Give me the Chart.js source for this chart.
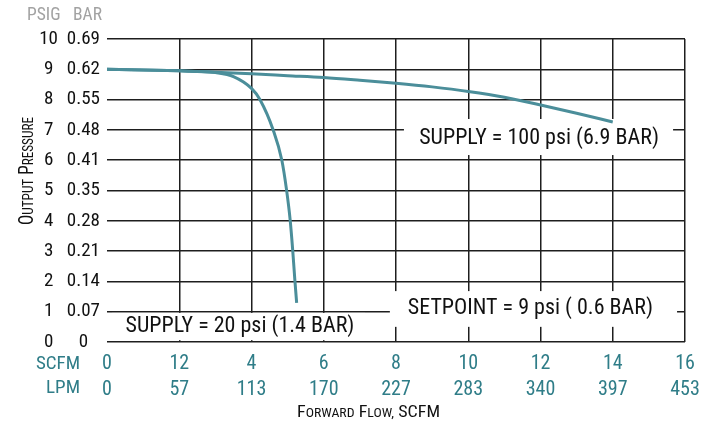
<!DOCTYPE html>
<html>
<head>
<meta charset="utf-8">
<script src="https://cdn.jsdelivr.net/npm/chart.js@4"></script>
<style>
html,body{margin:0;padding:0;background:#fff;}
#wrap{width:713px;height:423px;position:relative;}
</style>
</head>
<body>
<div id="wrap"><canvas id="c"></canvas></div>
<script>
// ---- data ----
const scfmTickLabels = ['0','12','4','6','8','10','12','14','16'];
const lpmTickLabels  = ['0','57','113','170','227','283','340','397','453'];
const psigTickLabels = ['0','1','2','3','4','5','6','7','8','9','10'];
const barTickLabels  = ['0','0.07','0.14','0.21','0.28','0.35','0.41','0.48','0.55','0.62','0.69'];

const supply100Flow     = [0, 1, 2, 3, 4, 5, 6, 7, 8, 9, 10, 11, 12, 13, 14];
const supply100Pressure = [9.0, 8.98, 8.95, 8.9, 8.85, 8.79, 8.73, 8.64, 8.54, 8.42, 8.27, 8.08, 7.82, 7.55, 7.26];

const supply20Flow     = [0, 1, 2, 2.5, 3.0, 3.5, 4.0, 4.24, 4.6, 4.84, 4.97, 5.07, 5.14, 5.2, 5.25];
const supply20Pressure = [9.0, 8.98, 8.95, 8.93, 8.89, 8.76, 8.37, 7.99, 7.0, 6.0, 5.02, 4.03, 3.04, 2.05, 1.29];

const noteTexts = ['SUPPLY = 100 psi (6.9 BAR)', 'SETPOINT = 9 psi ( 0.6 BAR)', 'SUPPLY = 20 psi (1.4 BAR)'];

// ---- styling ----
const FONT = '"Roboto Condensed", "Liberation Sans Narrow", "DejaVu Sans Condensed", sans-serif';
const TEAL_TEXT = '#2f7d88';
const LINE_COLOR = '#4b8e9a';
const GRID = '#1e1e1e';

// annotation boxes (data coordinates: SCFM / PSIG)
const notes = [
  {text: noteTexts[0], x0: 8.22, x1: 15.67, y0: 6.17, y1: 7.36, tx: 11.96, ty: 6.73},
  {text: noteTexts[1], x0: 7.83, x1: 15.78, y0: 0.5,  y1: 1.68, tx: 11.72, ty: 1.12},
  {text: noteTexts[2], x0: 0.14, x1: 7.14,  y0: 0.06, y1: 0.96, tx: 3.68,  ty: 0.5}
];

function toXY(xs, ys){ return xs.map((v,i)=>({x:v, y:ys[i]})); }

function drawSmallCaps(ctx, segs, x, y, big, small, targetW){
  let total = 0;
  segs.forEach(([t, isBig]) => {
    ctx.font = (isBig ? big : small) + 'px ' + FONT;
    total += ctx.measureText(t).width;
  });
  const k = targetW ? targetW / total : 1;
  ctx.save();
  ctx.translate(x, y);
  ctx.scale(k, 1);
  let cx = 0;
  segs.forEach(([t, isBig]) => {
    ctx.font = (isBig ? big : small) + 'px ' + FONT;
    ctx.fillText(t, cx, 0);
    cx += ctx.measureText(t).width;
  });
  ctx.restore();
}

const decor = {
  id: 'decor',
  beforeDatasetsDraw(chart){
    const {ctx, scales:{x, y}} = chart;
    ctx.save();
    notes.forEach(n => {
      const l = x.getPixelForValue(n.x0), r = x.getPixelForValue(n.x1);
      const t = y.getPixelForValue(n.y1), b = y.getPixelForValue(n.y0);
      ctx.fillStyle = '#fff';
      ctx.fillRect(l, t, r - l, b - t);
      ctx.fillStyle = '#111';
      ctx.font = '22px ' + FONT;
      ctx.textAlign = 'center';
      ctx.textBaseline = 'middle';
      ctx.fillText(n.text, x.getPixelForValue(n.tx), y.getPixelForValue(n.ty));
    });
    ctx.restore();
  },
  afterDraw(chart){
    const {ctx} = chart;
    ctx.save();
    // header
    ctx.fillStyle = '#a2a2a2';
    ctx.font = '17.5px ' + FONT;
    ctx.textBaseline = 'alphabetic';
    ctx.textAlign = 'left';
    ctx.fillText('PSIG', 27, 20);
    ctx.fillText('BAR', 73, 20);
    // row labels
    ctx.fillStyle = TEAL_TEXT;
    ctx.font = '19px ' + FONT;
    ctx.textAlign = 'right';
    ctx.textBaseline = 'middle';
    ctx.fillText('SCFM', 80, 364);
    ctx.fillText('LPM', 80, 388);
    // x title
    ctx.fillStyle = '#111';
    ctx.textAlign = 'left';
    ctx.textBaseline = 'alphabetic';
    drawSmallCaps(ctx, [['F',1],['ORWARD',0],[' F',1],['LOW,',0],[' SCFM',1]], 297, 417, 17, 13, 143);
    // y title
    ctx.translate(33, 225);
    ctx.rotate(-Math.PI/2);
    drawSmallCaps(ctx, [['O',1],['UTPUT',0],[' P',1],['RESSURE',0]], 0, 0, 20, 15.5, 108);
    ctx.restore();
  }
};

const fixedTicks = (min, max, step) => (scale) => {
  const t = [];
  for (let v = min; v <= max; v += step) t.push({value: v});
  scale.ticks = t;
};

new Chart(document.getElementById('c'), {
  type: 'line',
  data: {
    datasets: [
      {label: 'Supply 100 psi', data: toXY(supply100Flow, supply100Pressure), borderColor: LINE_COLOR, borderWidth: 3, pointRadius: 0, fill: false, cubicInterpolationMode: 'monotone'},
      {label: 'Supply 20 psi', data: toXY(supply20Flow, supply20Pressure), borderColor: LINE_COLOR, borderWidth: 3, pointRadius: 0, fill: false, cubicInterpolationMode: 'monotone'}
    ]
  },
  options: {
    responsive: true,
    maintainAspectRatio: false,
    animation: false,
    layout: {padding: {top: 39, right: 28, left: 0, bottom: 23}},
    plugins: {legend: {display: false}, tooltip: {enabled: false}, title: {display: false}},
    scales: {
      x: {
        type: 'linear', position: 'bottom', min: 0, max: 16, weight: 0,
        afterBuildTicks: fixedTicks(0, 16, 2),
        afterFit: s => { s.height = 34; },
        grid: {drawTicks: false, tickLength: 0, lineWidth: 1.5, color: c => (c.tick && c.tick.value === 0) ? 'rgba(0,0,0,0)' : GRID},
        border: {display: false},
        ticks: {padding: 10, color: TEAL_TEXT, font: {family: FONT, size: 20}, maxRotation: 0, autoSkip: false,
                callback: (v, i) => scfmTickLabels[i]}
      },
      x2: {
        type: 'linear', position: 'bottom', min: 0, max: 16, weight: 1,
        afterBuildTicks: fixedTicks(0, 16, 2),
        afterFit: s => { s.height = 24; },
        grid: {display: false, drawTicks: false, tickLength: 0},
        border: {display: false},
        ticks: {padding: 2, color: TEAL_TEXT, font: {family: FONT, size: 20}, maxRotation: 0, autoSkip: false,
                callback: (v, i) => lpmTickLabels[i]}
      },
      y: {
        type: 'linear', position: 'left', min: 0, max: 10, weight: 1,
        afterBuildTicks: fixedTicks(0, 10, 1),
        afterFit: s => { s.width = 66; },
        grid: {drawTicks: false, tickLength: 0, lineWidth: 1.5, color: GRID},
        border: {display: false},
        ticks: {padding: 8, crossAlign: 'center', color: '#111', font: {family: FONT, size: 19}, autoSkip: false,
                callback: (v, i) => psigTickLabels[i]}
      },
      y2: {
        type: 'linear', position: 'left', min: 0, max: 10, weight: 0,
        afterBuildTicks: fixedTicks(0, 10, 1),
        afterFit: s => { s.width = 41; },
        grid: {display: false, drawTicks: false, tickLength: 0},
        border: {display: false},
        ticks: {padding: 7, crossAlign: 'center', color: '#111', font: {family: FONT, size: 19}, autoSkip: false,
                callback: (v, i) => barTickLabels[i]}
      }
    }
  },
  plugins: [decor]
});
</script>
</body>
</html>
